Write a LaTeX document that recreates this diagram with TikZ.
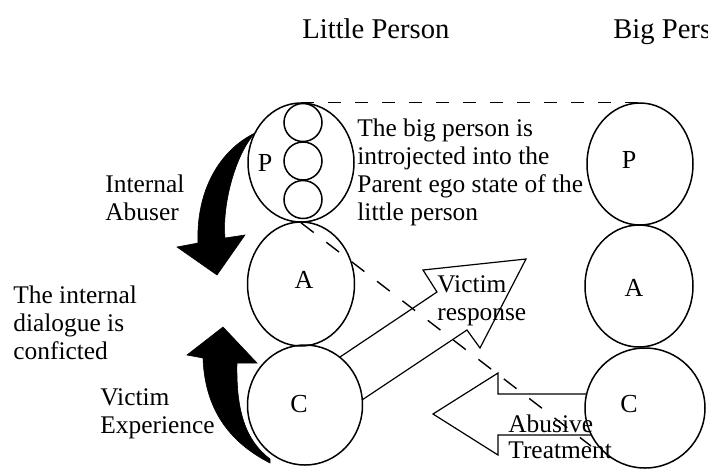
\documentclass[tikz,border=0pt]{standalone}
\usepackage{fontspec}
\setmainfont{Liberation Serif}
\usetikzlibrary{shapes.geometric}
\newcommand\stk[2]{{\fontsize{12.7}{#1}\selectfont\begin{tabular}[t]{@{}l@{}}#2\end{tabular}}}
\begin{document}
\begin{tikzpicture}[x=0.5pt,y=-0.5pt,
  ego/.style={draw, ellipse, line width=0.75pt, inner sep=0pt},
  lbl/.style={inner sep=0pt, anchor=base west},
  egolbl/.style={inner sep=0pt, font=\fontsize{13}{14}\selectfont},
  titlelbl/.style={inner sep=0pt, anchor=base west, font=\fontsize{14.3}{16}\selectfont},
  hollow/.style={draw, line width=0.6pt, line join=miter},
  dashtop/.style={draw, line width=0.7pt, dash pattern=on 6.5pt off 7pt},
  dashdiag/.style={draw, line width=0.7pt, dash pattern=on 8pt off 8pt},
  blackarrow/.style={fill=black, draw=black, line width=0.3pt}]
\useasboundingbox (0,0) rectangle (708,468);
\clip (0,0) rectangle (708,468);

% titles
\node[titlelbl] (tLittle) at (302,38) {Little Person};
\node[titlelbl] (tBig) at (613,38) {Big Person};

% little person ego states
\node[ego, minimum width=53pt, minimum height=59.5pt] (lP) at (301,162.5) {};
\node[ego, minimum width=19pt, minimum height=19pt] (s1) at (303,122.5) {};
\node[ego, minimum width=19pt, minimum height=19pt] (s2) at (303,161) {};
\node[ego, minimum width=19pt, minimum height=19pt] (s3) at (303,199.5) {};
\node[ego, minimum width=53.5pt, minimum height=62pt] (lA) at (301,284) {};
\node[ego, minimum width=57.5pt, minimum height=60pt] (lC) at (305,405) {};

% big person ego states
\node[ego, minimum width=53pt, minimum height=61pt] (bP) at (640,164) {};
\node[ego, minimum width=54pt, minimum height=61pt] (bA) at (639,286) {};
\node[ego, minimum width=60pt, minimum height=60pt] (bC) at (645,408) {};

% ego labels
\node[egolbl] (lPl) at (265,163) {P};
\node[egolbl] (lAl) at (304,280) {A};
\node[egolbl] (lCl) at (299,404) {C};
\node[egolbl] (bPl) at (629,160) {P};
\node[egolbl] (bAl) at (634,288) {A};
\node[egolbl] (bCl) at (629,404) {C};

% dashed lines
\draw[dashtop] (lP.north) -- (bP.north);
\coordinate (dEnd) at (591,446);
\draw[dashdiag] (lP.south) -- (dEnd);

% victim response hollow arrow
\coordinate (vrA) at (340,357);
\coordinate (vrB) at (362,400);
\draw[hollow] (vrA) -- (437,292) -- (423,270) -- (526,259) -- (480,348) -- (467,330) -- (vrB);

% abusive treatment hollow arrow
\coordinate (atA) at (587,394);
\coordinate (atB) at (591,435);
\draw[hollow] (atA) -- (498,394) -- (498,373) -- (433,414) -- (498,455) -- (498,435) -- (atB);

% internal abuser black arrow
\filldraw[blackarrow] (255,133) .. controls (235,155) and (222,205) .. (225,238)
  -- (245,235) -- (217,275) -- (177,247) -- (198,243)
  .. controls (196,190) and (220,150) .. (255,133) -- cycle;

% victim experience black arrow
\filldraw[blackarrow] (270,463) .. controls (235,445) and (205,415) .. (203,358)
  -- (187,355) -- (223,327) -- (257,363) -- (237,363)
  .. controls (236,410) and (245,440) .. (270,459) -- cycle;

% text labels
\node[lbl] (abuser) at (105,192) {\stk{14}{Internal\\Abuser}};
\node[lbl] (dialog) at (13,303) {\stk{14}{The internal\\dialogue is\\conficted}};
\node[lbl] (vexp) at (100,405) {\stk{14}{Victim\\Experience}};
\node[lbl] (intro) at (357,136) {\stk{14}{The big person is\\introjected into the\\Parent ego state of the\\little person}};
\node[lbl] (vresp) at (437,292) {\stk{14.2}{Victim\\response}};
\node[lbl] (abtr) at (508,432) {\stk{13}{Abusive\\Treatment}};
\end{tikzpicture}
\end{document}
